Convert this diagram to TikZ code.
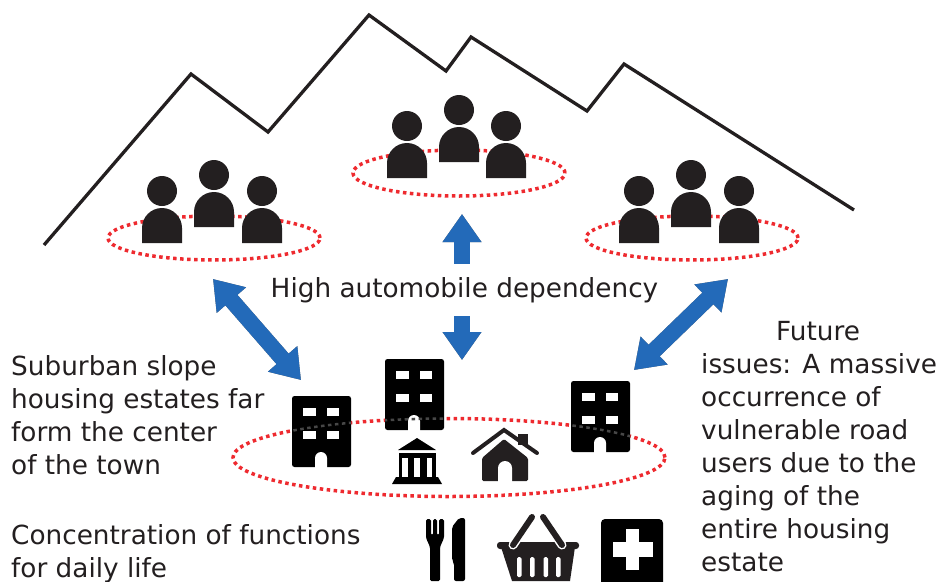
\documentclass[tikz,border=0pt]{standalone}
\usepackage{fontspec}
\setmainfont{DejaVu Sans}
\usetikzlibrary{arrows.meta}
\definecolor{inkblack}{HTML}{231F20}
\definecolor{dotred}{HTML}{EE2A2F}
\definecolor{arrowblue}{HTML}{236AB9}
\tikzset{
	person/.pic={
		\fill [inkblack] (0,0) circle (15);
		\fill [inkblack] (-20,-52) -- (-20,-37) arc (180:0:20) -- (20,-52) -- cycle;
	},
	tower/.pic={
		\fill [black, rounded corners=2.5pt] (0,0) rectangle (59,-71);
		\fill [white] (11,-12) rectangle (24,-20);
		\fill [white] (35,-12) rectangle (47,-20);
		\fill [white] (11,-35) rectangle (24,-43);
		\fill [white] (35,-35) rectangle (47,-43);
		\fill [white] (23,-72) -- (23,-62) arc (180:0:6) -- (35,-72) -- cycle;
	},
	ringdots/.style={draw=dotred, line width=3.5pt, dash pattern=on 3.5pt off 3.5pt},
	bluearrow/.style={line width=16pt, {Triangle[length=28pt,width=37pt]}-{Triangle[length=28pt,width=37pt]}},
	caption/.style={align=left, anchor=north west, inner sep=0pt, font=\fontsize{26.3}{33}\selectfont, text=inkblack}
}

\begin{document}
\begin{tikzpicture}[x=1pt,y=1pt]
	\useasboundingbox (0,0) rectangle (941,-581);
	% mountain
	\draw [inkblack, line width=3.3pt, miter limit=10] (44,-245) -- (191,-74) -- (268,-132) -- (369,-15) -- (446,-71) -- (471,-37) -- (587,-111) -- (624,-64) -- (854,-210);
	% rings
	\draw [ringdots] (214,-238) ellipse (106 and 22);
	\draw [ringdots] (459,-173) ellipse (106 and 23);
	\draw [ringdots] (692,-238) ellipse (106 and 22);
	\draw [ringdots] (449,-457.5) ellipse (216 and 39);
	% people
	\foreach \x/\y in {162/191,214/175,262/191,407/126,459/110,506/126,639/191,691/175,739/191}
		\pic at (\x,-\y) {person};
	% ends of the arrows
	\coordinate (slopeleft) at (213,-279);
	\coordinate (townleft) at (301,-380);
	\coordinate (slopemid) at (462,-214);
	\coordinate (townmid) at (462,-360);
	\coordinate (sloperight) at (728,-279);
	\coordinate (townright) at (634,-370);
	% arrows, shadow first
	\foreach \a/\b in {slopeleft/townleft,slopemid/townmid,sloperight/townright} {
		\foreach \s/\o in {6/0.1,5/0.14,4/0.2,3/0.3} {
			\draw [bluearrow, draw=black, fill=black, opacity=\o, shift={(\s,-\s)}] (\a) -- (\b);
		}
		\draw [bluearrow, draw=arrowblue, fill=arrowblue] (\a) -- (\b);
	}
	% texts
	\node [caption, fill=white, inner ysep=13pt, inner xsep=0pt, anchor=center] (dependency) at (464.5,-290) {High automobile dependency};
	\node [caption] (suburb) at (11,-355) {Suburban slope\\housing estates far\\form the center\\of the town};
	\node [caption] (functions) at (11,-524) {Concentration of functions\\for daily life};
	\node [caption] (future) at (701,-321) {\hspace*{75pt}Future\\issues: A massive\\occurrence of\\vulnerable road\\users due to the\\aging of the\\entire housing\\estate};
	% buildings
	\pic at (292,-396) {tower};
	\pic at (385,-359) {tower};
	\pic at (571,-381) {tower};
	% ring seen through the buildings
	\begin{scope}
		\clip (292,-396) rectangle (351,-467) (385,-359) rectangle (444,-430) (571,-381) rectangle (630,-452);
		\draw [ringdots, draw=black!72!white, line width=2.5pt] (449,-457.5) ellipse (216 and 39);
	\end{scope}
	% bank
	\fill [black] (417,-438) -- (436,-450) -- (398,-450) -- cycle;
	\fill [black] (399,-453) rectangle (436,-478);
	\fill [white] (402,-458) rectangle (408,-477);
	\fill [white] (414,-458) rectangle (420,-477);
	\fill [white] (427,-458) rectangle (432,-477);
	\fill [black] (396,-477) -- (438,-477) -- (442,-484) -- (392,-484) -- cycle;
	% house
	\draw [inkblack, line width=4pt, line cap=round, line join=miter] (473,-453) -- (504,-430) -- (537,-453);
	\fill [inkblack] (518,-434) rectangle (528,-445);
	\fill [inkblack, rounded corners=1.5pt] (504,-439) -- (528,-458) -- (528,-481) -- (482,-481) -- (482,-458) -- cycle;
	\fill [white] (498,-482) -- (498,-468) arc (180:0:7) -- (512,-482) -- cycle;
	% fork
	\fill [black, rounded corners=1.5pt] (426,-519) -- (426,-538) -- (430,-547) -- (430,-581) -- (440,-581) -- (440,-547) -- (444,-538) -- (444,-519) -- (439,-519) -- (439,-535) -- (437,-535) -- (437,-519) -- (433,-519) -- (433,-535) -- (431,-535) -- (431,-519) -- cycle;
	% knife
	\fill [black, rounded corners=2pt] (465,-518) -- (459,-518) -- (452,-527) -- (452,-560) -- (454,-563) -- (454,-581) -- (465,-581) -- cycle;
	% basket
	\fill [inkblack, rounded corners=3pt] (497,-542) rectangle (579,-549);
	\fill [inkblack] (501,-547) -- (575,-547) -- (570,-581) -- (512,-581) -- cycle;
	\foreach \x in {517,530,543.5,556}
		\fill [white, rounded corners=1.5pt] (\x,-557) rectangle (\x+4.5,-577);
	\draw [white, line width=9pt, line cap=round] (513,-545) -- (532,-517);
	\draw [white, line width=9pt, line cap=round] (562,-545) -- (543,-517);
	\draw [inkblack, line width=6pt, line cap=round] (513,-545) -- (532,-517);
	\draw [inkblack, line width=6pt, line cap=round] (562,-545) -- (543,-517);
	% medical
	\fill [black, rounded corners=4pt] (601,-519) rectangle (663,-590);
	\fill [white] (613,-542) rectangle (653,-557);
	\fill [white] (626,-529) rectangle (639,-570);
\end{tikzpicture}
\end{document}
